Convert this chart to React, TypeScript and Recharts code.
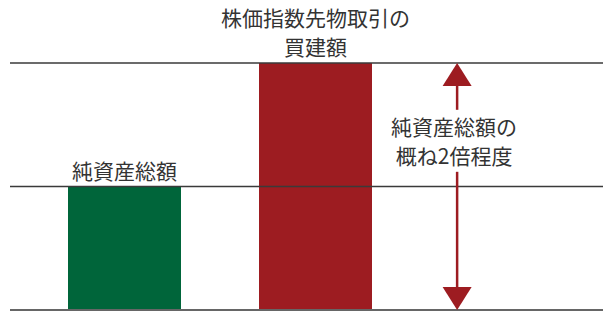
import { ComposedChart, Bar, Cell, XAxis, YAxis, ReferenceLine, LabelList } from 'recharts'

// bar data
const categories = ['純資産総額', '株価指数先物取引の買建額']
const barLabels = [['純資産総額'], ['株価指数先物取引の', '買建額']]
const values = [1, 2]
const barColors = ['#00653a', '#9d1c21']

// horizontal guide lines (in data units)
const guideValues = [1, 2]

// arrow annotation from the net assets level to the futures level
const arrowFrom = 0
const arrowTo = 2
const arrowPos = 0.754
const noteAt = 1.37
const noteLines = ['純資産総額の', '概ね2倍程度']

const data = categories.map((name, i) => ({ name, value: values[i] }))

const font = '"Noto Sans CJK JP", "Noto Sans", sans-serif'
const textColor = '#333333'
const arrowColor = '#9d1c21'

function BarLabel(props: any) {
  const { x, y, width, index } = props
  const lines = barLabels[index] || []
  const cx = x + width / 2
  return (
    <g>
      {lines.map((line, i) => (
        <text
          key={i}
          x={cx}
          y={y - 17 - (lines.length - 1 - i) * 29}
          textAnchor="middle"
          dominantBaseline="central"
          fontSize={21}
          fontFamily={font}
          fill={textColor}
        >
          {line}
        </text>
      ))}
    </g>
  )
}

function ArrowShape(props: any) {
  const { x1, y1, y2 } = props
  const top = Math.min(y1, y2)
  const bottom = Math.max(y1, y2)
  const head = 23
  const half = 14.5
  const frac = (arrowTo - noteAt) / (arrowTo - arrowFrom)
  const mid = top + (bottom - top) * frac
  return (
    <g>
      <polygon points={`${x1},${top} ${x1 - half},${top + head} ${x1 + half},${top + head}`} fill={arrowColor} />
      <line x1={x1} y1={top + head} x2={x1} y2={mid - 31} stroke={arrowColor} strokeWidth={2.5} />
      <line x1={x1} y1={mid + 31} x2={x1} y2={bottom - head} stroke={arrowColor} strokeWidth={2.5} />
      <polygon points={`${x1},${bottom} ${x1 - half},${bottom - head} ${x1 + half},${bottom - head}`} fill={arrowColor} />
      {noteLines.map((line, i) => (
        <text
          key={i}
          x={x1 - 3}
          y={mid + (i - (noteLines.length - 1) / 2) * 29}
          textAnchor="middle"
          dominantBaseline="central"
          fontSize={21}
          fontFamily={font}
          fill={textColor}
        >
          {line}
        </text>
      ))}
    </g>
  )
}

export default function App() {
  return (
    <div style={{ position: 'absolute', left: 0, top: 0, background: '#fff' }}>
      <ComposedChart width={603} height={311} data={data} margin={{ top: 63, right: 0, bottom: 1, left: 10 }}>
        <XAxis dataKey="name" hide padding={{ left: 19, right: 192 }} />
        <XAxis xAxisId="note" type="number" domain={[0, 1]} hide />
        <YAxis hide domain={[arrowFrom, arrowTo]} />
        {guideValues.map((v) => (
          <ReferenceLine key={v} y={v} stroke="#3a3a3a" strokeWidth={1.3} />
        ))}
        <Bar dataKey="value" barSize={113} isAnimationActive={false}>
          {data.map((d, i) => (
            <Cell key={d.name} fill={barColors[i]} />
          ))}
          <LabelList dataKey="name" content={BarLabel} />
        </Bar>
        <ReferenceLine y={arrowFrom} stroke="#666666" strokeWidth={2} />
        <ReferenceLine
          xAxisId="note"
          segment={[{ x: arrowPos, y: arrowTo }, { x: arrowPos, y: arrowFrom }]}
          shape={ArrowShape}
        />
      </ComposedChart>
    </div>
  )
}
